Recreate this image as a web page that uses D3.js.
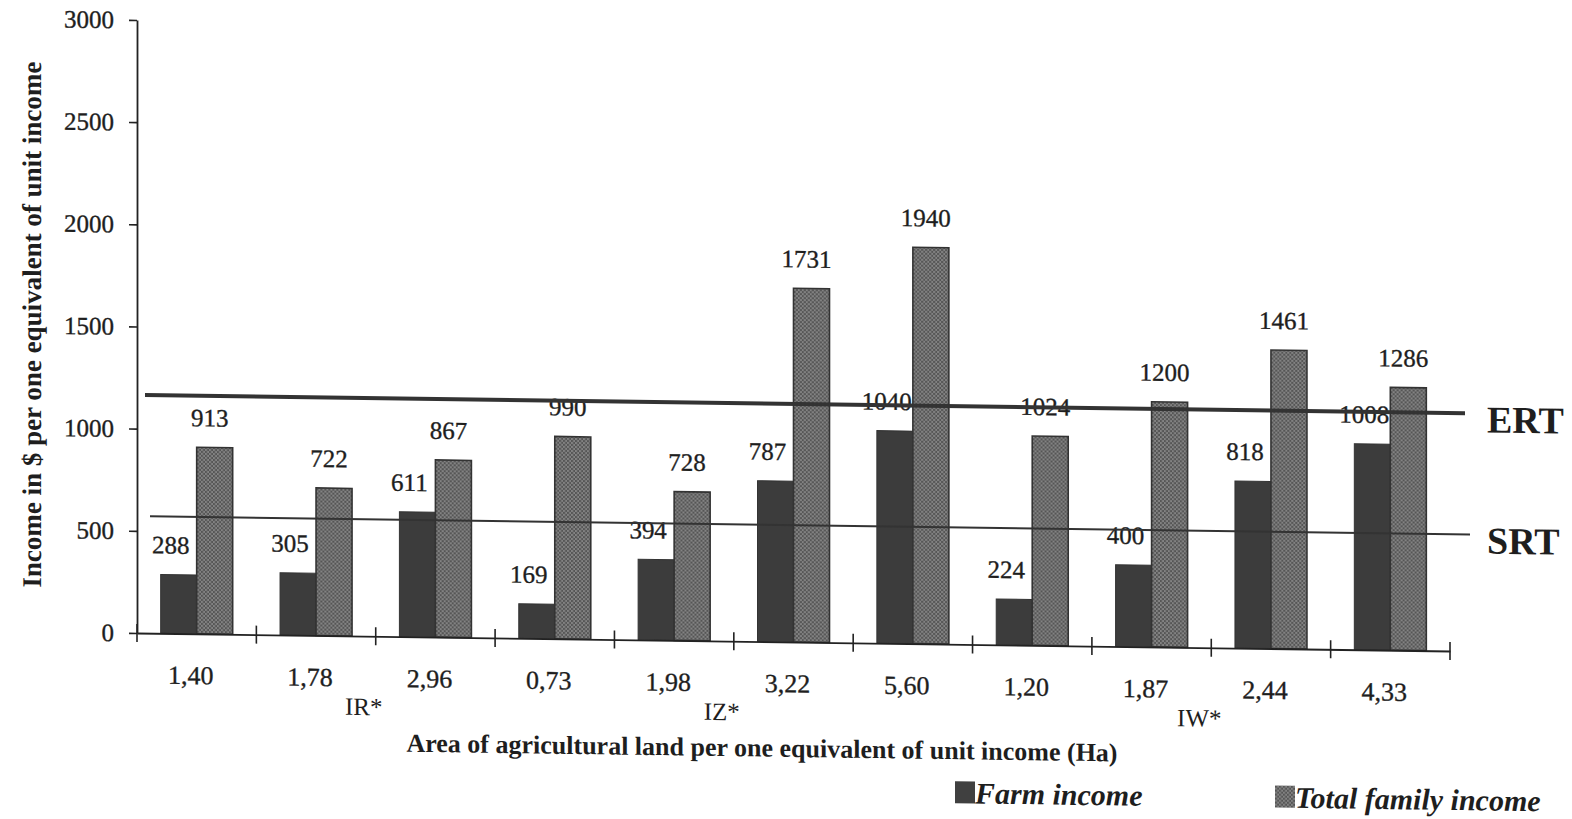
<!DOCTYPE html>
<html>
<head>
<meta charset="utf-8">
<script src="https://cdn.jsdelivr.net/npm/d3@7"></script>
<style>
  html, body { margin: 0; padding: 0; background: #fff; }
  svg { display: block; }
  text { font-family: "Liberation Serif", "Times New Roman", serif; fill: #1e1e1e; }
  .ink { stroke: #1e1e1e; stroke-width: 0.35px; }
</style>
</head>
<body>
<svg id="chart" width="1572" height="819"></svg>
<script>
// Land area per unit-income equivalent (Ha), one group per farm class
const categories = ["1,40", "1,78", "2,96", "0,73", "1,98", "3,22", "5,60", "1,20", "1,87", "2,44", "4,33"];
// Income in $ per one equivalent of unit income
const farmIncome  = [288, 305, 611, 169, 394, 787, 1040, 224, 400, 818, 1008];
const totalIncome = [913, 722, 867, 990, 728, 1731, 1940, 1024, 1200, 1461, 1286];
const seriesNames = ["Farm income", "Total family income"];
const yTicks = [0, 500, 1000, 1500, 2000, 2500, 3000];
// Reference thresholds drawn across the plot
const thresholdNames  = ["ERT", "SRT"];
const thresholdValues = [1165, 572];
// Region labels, each placed at the right edge of the named category
const regionLabels = ["IR*", "IZ*", "IW*"];
const regionAfter  = ["1,78", "1,98", "1,87"];

const svg = d3.select("#chart");
const plotLeft = 137, plotRight = 1450, plotBase = 633, plotTop = 20;
const tilt = Math.atan(0.0137) * 180 / Math.PI;

// checked fill for the total family income bars
const defs = svg.append("defs");
const pat = defs.append("pattern").attr("id", "checks")
  .attr("patternUnits", "userSpaceOnUse").attr("width", 4).attr("height", 4);
pat.append("rect").attr("width", 4).attr("height", 4).attr("fill", "#555555");
pat.append("rect").attr("width", 2).attr("height", 2).attr("fill", "#838383");
pat.append("rect").attr("x", 2).attr("y", 2).attr("width", 2).attr("height", 2).attr("fill", "#838383");

const g = svg.append("g")
  .attr("transform", `translate(${plotLeft},0) skewY(${tilt}) translate(${-plotLeft},0)`);

const x = d3.scaleBand().domain(categories).range([plotLeft, plotRight]).padding(0);
const bw = x.bandwidth();
const barW = 36;
const xs = d3.scaleBand().domain(seriesNames).range([(bw - 2 * barW) / 2, (bw + 2 * barW) / 2]);
const y = d3.scaleLinear().domain([0, 3000]).range([plotBase, plotTop]);

// y axis
const yAxis = g.append("g").attr("transform", `translate(${plotLeft},0)`)
  .call(d3.axisLeft(y).tickValues(yTicks).tickFormat(d3.format("d"))
    .tickSize(8).tickPadding(15).tickSizeOuter(0));
yAxis.selectAll("text").style("font-size", "25px").attr("fill", "#1e1e1e").attr("class", "ink");
yAxis.selectAll("line").attr("stroke", "#222").attr("stroke-width", 1.6);
yAxis.select(".domain").attr("stroke", "#222").attr("stroke-width", 1.8);

// bars
const rows = categories.map((c, i) => ({ c, farm: farmIncome[i], total: totalIncome[i] }));
const grp = g.append("g").selectAll("g").data(rows).join("g")
  .attr("transform", d => `translate(${x(d.c)},0)`);

grp.append("rect")
  .attr("x", xs(seriesNames[0])).attr("width", xs.bandwidth())
  .attr("y", d => y(d.farm)).attr("height", d => y(0) - y(d.farm))
  .attr("fill", "#3c3c3c").attr("stroke", "#333").attr("stroke-width", 1);

grp.append("rect")
  .attr("x", xs(seriesNames[1])).attr("width", xs.bandwidth())
  .attr("y", d => y(d.total)).attr("height", d => y(0) - y(d.total))
  .attr("fill", "url(#checks)").attr("stroke", "#333").attr("stroke-width", 1.6);

// x axis: baseline, category labels and crossing boundary ticks
const xAxis = g.append("g").attr("transform", `translate(0,${plotBase})`)
  .call(d3.axisBottom(x).tickSize(0).tickPadding(32).tickSizeOuter(0));
xAxis.selectAll("text").style("font-size", "26px").attr("dx", -6)
  .attr("fill", "#1e1e1e").attr("class", "ink");
xAxis.select(".domain").attr("stroke", "#222").attr("stroke-width", 1.8);
const bounds = categories.map(c => x(c)).concat([x.range()[1]]);
g.append("g").selectAll("line").data(bounds).join("line")
  .attr("x1", d => d).attr("x2", d => d)
  .attr("y1", plotBase - 9).attr("y2", plotBase + 9)
  .attr("stroke", "#222").attr("stroke-width", 1.6);

// threshold lines
const thr = thresholdNames.map((n, i) => ({ n, v: thresholdValues[i] }));
g.append("g").selectAll("line").data(thr).join("line")
  .attr("x1", (d, i) => plotLeft + 8 + 5 * i).attr("x2", (d, i) => plotRight + 15 + 5 * i)
  .attr("y1", d => y(d.v)).attr("y2", d => y(d.v))
  .attr("stroke", "#333").attr("stroke-width", (d, i) => i === 0 ? 4 : 2);
g.append("g").selectAll("text").data(thr).join("text")
  .attr("x", plotRight + 37).attr("y", d => y(d.v) + 19)
  .attr("font-weight", "bold").style("font-size", "38px")
  .text(d => d.n);

// value labels
grp.append("text").attr("class", "ink")
  .attr("x", xs(seriesNames[0]) + xs.bandwidth() / 2 - 8)
  .attr("y", d => y(d.farm) - 21)
  .attr("text-anchor", "middle").style("font-size", "25px")
  .text(d => d.farm);
grp.append("text").attr("class", "ink")
  .attr("x", xs(seriesNames[1]) + xs.bandwidth() / 2 - 5)
  .attr("y", d => y(d.total) - 21)
  .attr("text-anchor", "middle").style("font-size", "25px")
  .text(d => d.total);

// region labels
g.append("g").selectAll("text").data(regionLabels).join("text")
  .attr("x", (d, i) => x(regionAfter[i]) + bw - 12)
  .attr("y", 712)
  .attr("text-anchor", "middle").style("font-size", "25px")
  .text(d => d);

// axis titles
g.append("text")
  .attr("x", 762).attr("y", 748)
  .attr("text-anchor", "middle").attr("font-weight", "bold").style("font-size", "26px")
  .text("Area of agricultural land per one equivalent of unit income (Ha)");
g.append("text")
  .attr("transform", "translate(41,326) rotate(-90)")
  .attr("text-anchor", "middle").attr("font-weight", "bold").style("font-size", "27px")
  .text("Income in $ per one equivalent of unit income");

// legend
const legendX = [955, 1275];
const leg = g.append("g").selectAll("g").data(seriesNames).join("g")
  .attr("transform", (d, i) => `translate(${legendX[i]},792)`);
leg.append("rect").attr("x", 0).attr("y", -22).attr("width", 20).attr("height", 22)
  .attr("fill", (d, i) => i === 0 ? "#404040" : "url(#checks)");
leg.append("text").attr("x", 20).attr("y", 0)
  .attr("font-weight", "bold").attr("font-style", "italic").style("font-size", "30px")
  .text(d => d);
</script>
</body>
</html>
